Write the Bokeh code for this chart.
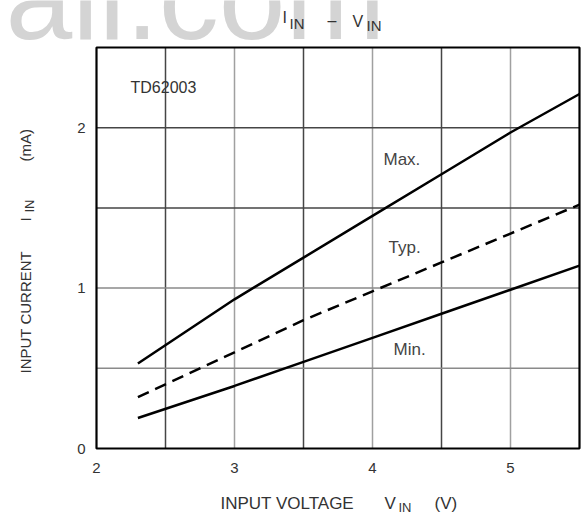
import math
from bokeh.plotting import figure
from bokeh.models import Range1d, FixedTicker, Label
from bokeh.embed import file_html
from bokeh.resources import INLINE

# ---- data ----
v_in = [2.3, 3.0, 3.5, 4.0, 4.5, 5.0, 5.5]
i_max = [0.53, 0.93, 1.19, 1.45, 1.71, 1.97, 2.21]
i_typ = [0.32, 0.60, 0.80, 0.98, 1.16, 1.34, 1.52]
i_min = [0.19, 0.39, 0.54, 0.69, 0.84, 0.99, 1.14]
x_ticks = [2, 3, 4, 5]
y_ticks = [0, 1, 2]
x_grid_dark = [2.5, 3.5, 4.5]
x_grid_light = [3, 4, 5]
y_grid_dark = [1.5, 2.0]
y_grid_light = [0.5, 1.0]

# ---- layout ----
W, H = 583, 516
BOX_L, BOX_R, BOX_T, BOX_B = 96, 579, 47, 448   # pixel edges of the chart box
X0, X1, Y0, Y1 = 2.0, 5.5, 0.0, 2.5
kx = (BOX_R - BOX_L) / (X1 - X0)
ky = (BOX_B - BOX_T) / (Y1 - Y0)

p = figure(width=W, height=H, output_backend="svg", toolbar_location=None,
           x_range=Range1d(X0 - BOX_L / kx, X1 + (W - BOX_R) / kx),
           y_range=Range1d(Y0 - (H - BOX_B) / ky, Y1 + BOX_T / ky),
           min_border=0)
p.background_fill_color = "white"
p.border_fill_color = "white"
p.outline_line_color = None
p.grid.visible = False

# axes of the library, pinned at the box edges
for ax, ticks, loc in [(p.xaxis[0], x_ticks, Y0), (p.yaxis[0], y_ticks, X0)]:
    ax.fixed_location = loc
    ax.ticker = FixedTicker(ticks=ticks)
    ax.major_tick_line_color = None
    ax.minor_tick_line_color = None
    ax.axis_line_color = None
    ax.major_label_text_font = "Liberation Sans"
    ax.major_label_text_font_size = "15px"
    ax.major_label_text_color = "#333333"
p.xaxis.major_label_standoff = 8
p.yaxis.major_label_standoff = 5

BL = 0.35  # baseline correction (fraction of font size)

def lab(px, py, text, size, color="#333333", align="left", angle=0.0,
        font="Liberation Sans", level="overlay"):
    if angle == 0.0:
        py = py - BL * size
    else:
        px = px - BL * size
    p.add_layout(Label(x=px, y=py, x_units="canvas", y_units="canvas", text=text, text_font=font,
                       text_font_size=f"{size}px", text_color=color, text_align=align,
                       text_baseline="alphabetic", angle=angle, level=level))

# watermark behind everything
lab(385, 38, "all.com", 120, color="#d4d4d4", align="right", level="underlay")

# grid lines limited to the box
for vals, col in [(x_grid_light, "#a0a0a0"), (x_grid_dark, "#454545")]:
    p.segment(x0=vals, y0=[Y0] * len(vals), x1=vals, y1=[Y1] * len(vals), line_color=col, line_width=1.5)
for vals, col in [(y_grid_light, "#8a8a8a"), (y_grid_dark, "#454545")]:
    p.segment(x0=[X0] * len(vals), y0=vals, x1=[X1] * len(vals), y1=vals, line_color=col, line_width=1.5)

# box frame
p.quad(left=[X0], right=[X1], bottom=[Y0], top=[Y1], fill_color=None, line_color="black", line_width=2.2)

# curves
p.line(v_in, i_max, line_width=2.5, line_color="black")
p.line(v_in, i_typ, line_width=2.5, line_color="black", line_dash="12 7")
p.line(v_in, i_min, line_width=2.5, line_color="black")

# in-plot annotations
lab(130, 93, "TD62003", 16)
lab(383, 165, "Max.", 17, color="#444444")
lab(388, 253, "Typ.", 17, color="#444444")
lab(393, 355, "Min.", 17, color="#444444")

# title I_IN - V_IN
lab(282, 23, "I", 16)
lab(289, 28, "IN", 15)
lab(327, 26, "–", 16)
lab(352, 27, "V", 16)
lab(366, 30, "IN", 15)

# x axis label
lab(220, 509, "INPUT VOLTAGE", 17)
lab(384, 509, "V", 17)
lab(398, 512, "IN", 13)
lab(434, 509, "(V)", 17)

# y axis label (rotated, reading upwards)
rot = math.pi / 2
lab(30, 373, "INPUT CURRENT", 15, angle=rot)
lab(30, 221, "I", 15, angle=rot)
lab(34, 212, "IN", 13, angle=rot)
lab(30, 161, "(mA)", 15, angle=rot)

open("out.html", "w").write(file_html(p, INLINE))
